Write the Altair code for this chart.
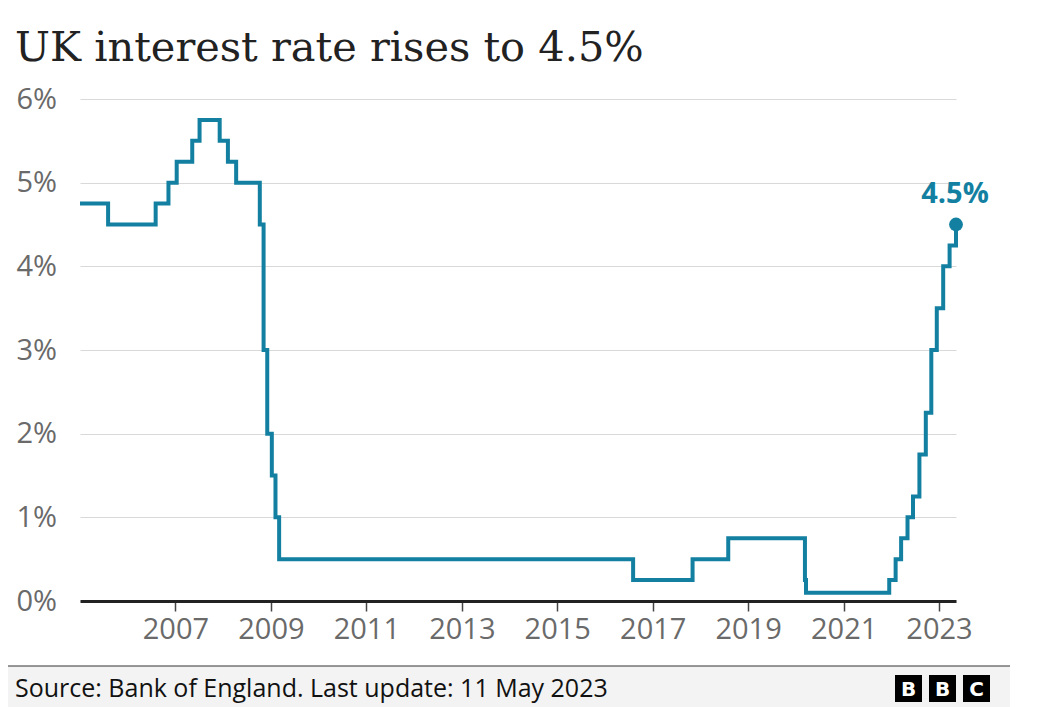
import altair as alt
import pandas as pd

# ---- data ----
change_dates = ["2005-01-01", "2005-08-04", "2006-08-03", "2006-11-09", "2007-01-11",
                "2007-05-10", "2007-07-05", "2007-12-06", "2008-02-07", "2008-04-10",
                "2008-10-08", "2008-11-06", "2008-12-04", "2009-01-08", "2009-02-05",
                "2009-03-05", "2016-08-04", "2017-11-02", "2018-08-02", "2020-03-11",
                "2020-03-19", "2021-12-16", "2022-02-03", "2022-03-17", "2022-05-05",
                "2022-06-16", "2022-08-04", "2022-09-22", "2022-11-03", "2022-12-15",
                "2023-02-02", "2023-03-23", "2023-05-11"]
bank_rate = [4.75, 4.5, 4.75, 5.0, 5.25,
             5.5, 5.75, 5.5, 5.25, 5.0,
             4.5, 3.0, 2.0, 1.5, 1.0,
             0.5, 0.25, 0.5, 0.75, 0.25,
             0.1, 0.25, 0.5, 0.75, 1.0,
             1.25, 1.75, 2.25, 3.0, 3.5,
             4.0, 4.25, 4.5]
tick_years = [2007, 2009, 2011, 2013, 2015, 2017, 2019, 2021, 2023]
y_ticks = [0, 1, 2, 3, 4, 5, 6]

title_text = "UK interest rate rises to 4.5%"
source_text = "Source: Bank of England. Last update: 11 May 2023"
end_label = "4.5%"
logo_letters = ["B", "B", "C"]

LINE = "#1380A1"
GREY = "#6a6a6a"
SANS = "Open Sans"

df = pd.DataFrame({"date": change_dates, "rate": bank_rate})
last = df.tail(1).assign(label=end_label)
one = pd.DataFrame({"k": [0]})

W, H = 876, 502

x_scale = alt.Scale(domain=[change_dates[0], change_dates[-1]])
y_scale = alt.Scale(domain=[0, 6], nice=False)

x_axis = alt.Axis(
    values=[alt.DateTime(year=y, month=1, date=1) for y in tick_years],
    format="%Y", title=None, grid=False,
    domain=True, domainColor="#222222", domainWidth=3,
    ticks=True, tickSize=10, tickColor="#444444", tickWidth=1.5,
    labelFont=SANS, labelFontSize=29, labelColor=GREY, labelPadding=4,
)
y_axis = alt.Axis(
    values=y_ticks, labelExpr="datum.value + '%'", title=None,
    grid=True, gridColor="#d9d9d9", gridWidth=1.2,
    domain=False, ticks=False,
    labelFont=SANS, labelFontSize=29, labelColor=GREY,
    labelAlign="left", labelPadding=64, labelBaseline="middle",
)

line = alt.Chart(df).mark_line(interpolate="step-after", color=LINE, strokeWidth=4).encode(
    x=alt.X("date:T", scale=x_scale, axis=x_axis),
    y=alt.Y("rate:Q", scale=y_scale, axis=y_axis),
)

dot = alt.Chart(last).mark_circle(color=LINE, opacity=1, size=190).encode(
    x=alt.X("date:T", scale=x_scale),
    y=alt.Y("rate:Q", scale=y_scale),
)

lbl = alt.Chart(last).mark_text(
    color=LINE, font=SANS, fontSize=29, fontWeight="bold", dy=-31, dx=-1, align="center"
).encode(
    x=alt.X("date:T", scale=x_scale),
    y=alt.Y("rate:Q", scale=y_scale),
    text="label:N",
)

title = alt.Chart(one).mark_text(
    text=title_text, font="DejaVu Serif", fontSize=41.5, color="#222222",
    align="left", baseline="alphabetic",
).encode(x=alt.value(-65), y=alt.value(-38))

footer_bg = alt.Chart(one).mark_rect(color="#f3f3f3").encode(
    x=alt.value(-80), x2=alt.value(930), y=alt.value(567), y2=alt.value(608)
)
footer_rule = alt.Chart(one).mark_rule(color="#333333", strokeWidth=1.2).encode(
    x=alt.value(-77), x2=alt.value(930), y=alt.value(567)
)
footer_text = alt.Chart(one).mark_text(
    text=source_text, font=SANS, fontSize=25, color="#111111",
    align="left", baseline="alphabetic",
).encode(x=alt.value(-65), y=alt.value(598))

logo_layers = []
for i, letter in enumerate(logo_letters):
    x0 = 815 + i * 34
    logo_layers.append(
        alt.Chart(one).mark_rect(color="#000000").encode(
            x=alt.value(x0), x2=alt.value(x0 + 27), y=alt.value(576), y2=alt.value(603)
        )
    )
    logo_layers.append(
        alt.Chart(one).mark_text(
            text=letter, font="DejaVu Sans", fontSize=20, fontWeight="bold",
            color="#ffffff", align="center", baseline="middle",
        ).encode(x=alt.value(x0 + 13.5), y=alt.value(590.5))
    )

chart = alt.layer(
    footer_bg, footer_rule, footer_text, *logo_layers, title, line, dot, lbl
).properties(
    width=W, height=H,
    autosize=alt.AutoSizeParams(type="none"),
    padding={"left": 72, "top": 91, "right": 65, "bottom": 106},
    background="#ffffff",
).configure_view(stroke=None)

chart.save("out.html", embed_options={"renderer": "svg", "actions": False})
